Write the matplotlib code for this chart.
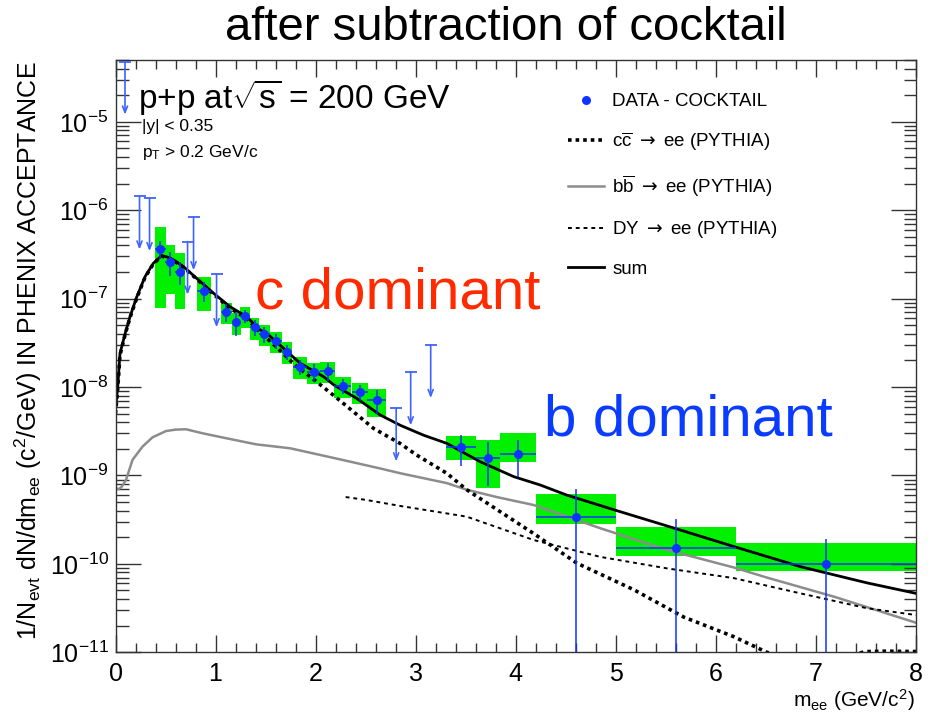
import numpy as np
import matplotlib
matplotlib.use('Agg')
import matplotlib.pyplot as plt
from matplotlib.lines import Line2D
from matplotlib.ticker import MultipleLocator, LogLocator, NullFormatter

plt.rcParams['font.family'] = ['Liberation Sans', 'DejaVu Sans']
plt.rcParams['mathtext.fontset'] = 'custom'
plt.rcParams['mathtext.rm'] = 'Liberation Sans'
plt.rcParams['mathtext.it'] = 'Liberation Sans:italic'
plt.rcParams['mathtext.bf'] = 'Liberation Sans:bold'
plt.rcParams['mathtext.sf'] = 'DejaVu Sans'
plt.rcParams['mathtext.default'] = 'rm'

# ---------------- data ----------------
pt_x = [0.445, 0.545, 0.645, 0.885, 1.105, 1.205, 1.295, 1.39, 1.485, 1.605, 1.71, 1.84,
        1.98, 2.12, 2.27, 2.44, 2.61, 3.455, 3.72, 4.02, 4.6, 5.6, 7.1]
pt_y = [3.65e-7, 2.58e-7, 2.02e-7, 1.23e-7, 7.08e-8, 5.41e-8, 6.37e-8, 4.74e-8, 3.99e-8, 3.33e-8,
        2.51e-8, 1.70e-8, 1.49e-8, 1.53e-8, 1.03e-8, 8.8e-9, 7.1e-9, 2.08e-9, 1.59e-9, 1.74e-9,
        3.42e-10, 1.5e-10, 9.9e-11]
pt_xerr = [0.055, 0.05, 0.05, 0.068, 0.055, 0.045, 0.05, 0.045, 0.055, 0.06, 0.05, 0.07,
           0.068, 0.075, 0.083, 0.08, 0.095, 0.15, 0.12, 0.18, 0.4, 0.6, 0.9]
stat_err = [0.85e-7, 0.8e-7, 0.6e-7, 0.32e-7, 1.6e-8, 1.6e-8, 1.1e-8, 0.95e-8, 0.8e-8, 0.65e-8,
            0.5e-8, 0.34e-8, 0.345e-8, 0.35e-8, 0.2e-8, 0.18e-8, 0.21e-8, 0.79e-9, 0.82e-9,
            0.78e-9, 3.61e-10, 1.7e-10, 0.91e-10]
sys_lo = [2.86e-7, 1.44e-7, 1.25e-7, 0.51e-7, 1.9e-8, 1.5e-8, 1.7e-8, 1.3e-8, 1.1e-8, 0.9e-8,
          0.7e-8, 0.46e-8, 0.4e-8, 0.41e-8, 0.28e-8, 0.24e-8, 0.25e-8, 0.58e-9, 0.87e-9,
          0.33e-9, 0.62e-10, 0.27e-10, 0.15e-10]
sys_hi = [2.86e-7, 1.44e-7, 1.25e-7, 0.51e-7, 1.9e-8, 1.5e-8, 1.7e-8, 1.3e-8, 1.1e-8, 0.9e-8,
          0.7e-8, 0.46e-8, 0.4e-8, 0.41e-8, 0.28e-8, 0.24e-8, 0.25e-8, 0.72e-9, 0.93e-9,
          1.26e-9, 2.78e-10, 1.1e-10, 0.72e-10]

# upper limits (90% CL) drawn as arrows
ul_x = [0.095, 0.24, 0.34, 0.72, 0.78, 1.01, 2.805, 2.95, 3.15]
ul_y = [4.8e-5, 1.43e-6, 1.37e-6, 4.42e-7, 8.34e-7, 1.89e-7, 5.75e-9, 1.47e-8, 2.99e-8]

# PYTHIA curves
sum_x = [0.0, 0.022, 0.045, 0.098, 0.145, 0.21, 0.295, 0.378, 0.46, 0.52, 0.58, 0.68, 0.81,
         0.98, 1.145, 1.31, 1.445, 1.51, 1.845, 2.08, 2.18, 2.41, 2.645, 2.845, 3.08, 3.31,
         3.645, 3.98, 4.245, 4.51, 5.01, 5.51, 6.18, 6.845, 7.51, 8.0]
sum_y = [5.5e-9, 1.0e-8, 2.4e-8, 4.1e-8, 6.25e-8, 1.03e-7, 1.77e-7, 2.51e-7, 3.06e-7, 2.95e-7,
         2.74e-7, 2.3e-7, 1.70e-7, 1.15e-7, 8.1e-8, 6.25e-8, 4.43e-8, 4.07e-8, 1.86e-8, 1.31e-8,
         1.06e-8, 7.46e-9, 4.83e-9, 3.7e-9, 2.85e-9, 2.31e-9, 1.43e-9, 9.7e-10, 7.8e-10, 6.0e-10,
         4.0e-10, 2.69e-10, 1.57e-10, 9.3e-11, 6.1e-11, 4.64e-11]

cc_x = [0.0, 0.022, 0.045, 0.098, 0.145, 0.21, 0.295, 0.378, 0.46, 0.52, 0.58, 0.68, 0.81,
        0.98, 1.145, 1.31, 1.445, 1.6, 1.8, 2.01, 2.245, 2.58, 2.845, 3.01, 3.31, 3.51, 3.8,
        4.18, 4.61, 5.18, 5.68, 6.18, 6.51, 6.8, 7.1, 7.45, 7.5, 7.7, 8.0]
cc_y = [5.0e-9, 9.5e-9, 2.3e-8, 4.0e-8, 6.1e-8, 1.0e-7, 1.74e-7, 2.47e-7, 3.02e-7, 2.91e-7,
        2.7e-7, 2.26e-7, 1.67e-7, 1.12e-7, 7.8e-8, 5.95e-8, 4.15e-8, 2.9e-8, 1.75e-8, 1.15e-8,
        7.0e-9, 3.4e-9, 2.3e-9, 1.7e-9, 1.06e-9, 6.9e-10, 4.2e-10, 2.2e-10, 1.02e-10, 5.1e-11,
        2.5e-11, 1.5e-11, 1.0e-11, 8e-12, 7e-12, 9.9e-12, 1.02e-11, 1.03e-11, 1.02e-11]

bb_x = [0.0, 0.03, 0.06, 0.105, 0.17, 0.27, 0.37, 0.505, 0.6, 0.705, 0.87, 1.105, 1.405,
        1.745, 2.245, 2.645, 2.845, 3.31, 3.51, 3.81, 4.18, 4.845, 5.51, 6.18, 6.51, 7.18, 8.0]
bb_y = [7.2e-10, 7.0e-10, 7.4e-10, 8.9e-10, 1.5e-9, 2.12e-9, 2.7e-9, 3.18e-9, 3.3e-9, 3.33e-9,
        3.0e-9, 2.64e-9, 2.25e-9, 2.03e-9, 1.52e-9, 1.2e-9, 1.06e-9, 8.2e-10, 6.9e-10, 5.7e-10,
        4.63e-10, 2.53e-10, 1.44e-10, 9.1e-11, 7.0e-11, 4.26e-11, 2.16e-11]

dy_x = [2.3, 2.5, 2.845, 3.2, 3.51, 4.18, 4.845, 5.51, 6.18, 6.845, 7.51, 8.0]
dy_y = [5.7e-10, 5.3e-10, 4.52e-10, 3.9e-10, 3.42e-10, 1.86e-10, 1.2e-10, 8.9e-11, 6.9e-11,
        4.64e-11, 3.15e-11, 2.64e-11]

x_ticks = [0, 1, 2, 3, 4, 5, 6, 7, 8]

# ---------------- figure ----------------
W, H = 932, 718
fig = plt.figure(figsize=(W / 100, H / 100), dpi=100)
ax = fig.add_axes([115.5 / W, 1 - 652.3 / H, (916 - 115.5) / W, (652.3 - 60) / H])
ax.set_yscale('log')
ax.set_xlim(0, 8)
ax.set_ylim(1e-11, 5.0e-5)

blue = '#1233ff'
arrow_blue = '#3f63ff'
green = '#00f000'
gray = '#8c8c8c'

px = np.array(pt_x)
py = np.array(pt_y)
pxe = np.array(pt_xerr)
se = np.array(stat_err)
slo = np.array(sys_lo)
shi = np.array(sys_hi)

# systematic boxes
ax.bar(px - pxe, (py + shi) - (py - slo), bottom=py - slo, width=2 * pxe, align='edge',
       color=green, edgecolor='none', zorder=1)

# curves
ax.plot(bb_x, bb_y, color=gray, lw=1.8, zorder=2)
ax.plot(dy_x, dy_y, color='black', lw=1.4, ls=(0, (2.0, 2.0)), zorder=2)
ax.plot(cc_x, cc_y, color='black', lw=2.6, ls=(0, (1, 1.1)), zorder=2)
ax.plot(sum_x, sum_y, color='black', lw=2.0, zorder=2)

# data points with stat errors
lo = np.minimum(se, py - 1e-14)
ax.errorbar(px, py, yerr=[lo, se], xerr=pxe, fmt='o', color=blue, ms=6.5, mew=0,
            elinewidth=1.1, capsize=0, zorder=4)

# upper limit arrows
arrow_drop = 10 ** -0.6
for x, y in zip(ul_x, ul_y):
    ax.annotate('', xy=(x, y * arrow_drop), xytext=(x, y),
                arrowprops=dict(arrowstyle='->,head_length=0.45,head_width=0.18',
                                color=arrow_blue, lw=1.2, shrinkA=0, shrinkB=0), zorder=4)
ax.plot(ul_x, ul_y, ls='none', marker='_', ms=9, mew=1.3, color=arrow_blue, zorder=4)

# axes style (ROOT-like)
ax.set_xticks(x_ticks)
ax.xaxis.set_minor_locator(MultipleLocator(0.2))
ax.yaxis.set_major_locator(LogLocator(base=10, numticks=20))
ax.yaxis.set_minor_locator(LogLocator(base=10, subs=np.arange(2, 10), numticks=20))
ax.yaxis.set_minor_formatter(NullFormatter())
ax.tick_params(axis='x', which='major', direction='in', length=12, width=1, top=True,
               labelsize=18, pad=7)
ax.tick_params(axis='x', which='minor', direction='in', length=6.5, width=1, top=True)
ax.tick_params(axis='y', which='major', direction='in', length=18, width=1, right=True,
               labelsize=18, pad=5)
ax.tick_params(axis='y', which='minor', direction='in', length=9, width=1, right=True)
for s in ax.spines.values():
    s.set_linewidth(1.0)
    s.set_color('#333333')
ax.tick_params(which='both', color='#333333')

# legend
handles = [
    Line2D([], [], marker='o', ls='none', color=blue, ms=6.5, mew=0),
    Line2D([], [], color='black', lw=2.6, ls=(0, (1, 1.1))),
    Line2D([], [], color=gray, lw=1.8),
    Line2D([], [], color='black', lw=1.4, ls=(0, (2.0, 2.0))),
    Line2D([], [], color='black', lw=2.0),
]
labels = ['DATA - COCKTAIL',
          r'c$\overline{\mathrm{c}}$ $\mathsf{\rightarrow}$ ee (PYTHIA)',
          r'b$\overline{\mathrm{b}}$ $\mathsf{\rightarrow}$ ee (PYTHIA)',
          r'DY $\mathsf{\rightarrow}$ ee (PYTHIA)',
          'sum']
fig.legend(handles, labels, loc='upper left', bbox_to_anchor=(568 / W, 1 - 93 / H),
           frameon=False, fontsize=13.5, handlelength=1.9, handletextpad=0.45,
           labelspacing=1.08, borderpad=0, borderaxespad=0)

# texts
fig.text(506 / W, 1 - 28 / H, 'after subtraction of cocktail', ha='center', va='center',
         fontsize=34)
fig.text(138 / W, 1 - 97 / H, r'p+p at$\sqrt{\mathrm{s}}$ = 200 GeV', ha='left', va='center',
         fontsize=24)
fig.text(142 / W, 1 - 127 / H, '|y| < 0.35', ha='left', va='center', fontsize=12.5)
fig.text(142 / W, 1 - 152 / H, r'p$_{\mathrm{T}}$ > 0.2 GeV/c', ha='left', va='center',
         fontsize=12.5)
fig.text(255 / W, 1 - 293 / H, 'c dominant', ha='left', va='center', fontsize=42,
         color='#ff2a00')
fig.text(544 / W, 1 - 420 / H, 'b dominant', ha='left', va='center', fontsize=42,
         color='#0a3cff')
fig.text(28 / W, 1 - 351 / H,
         r'1/N$_{\mathrm{evt}}$ dN/dm$_{\mathrm{ee}}$ (c$^{2}$/GeV) IN PHENIX ACCEPTANCE',
         rotation=90, ha='center', va='center', fontsize=18)
fig.text(915 / W, 1 - 700 / H, r'm$_{\mathrm{ee}}$ (GeV/c$^{2}$)', ha='right', va='center',
         fontsize=15)

fig.savefig('out.png', dpi=100)
